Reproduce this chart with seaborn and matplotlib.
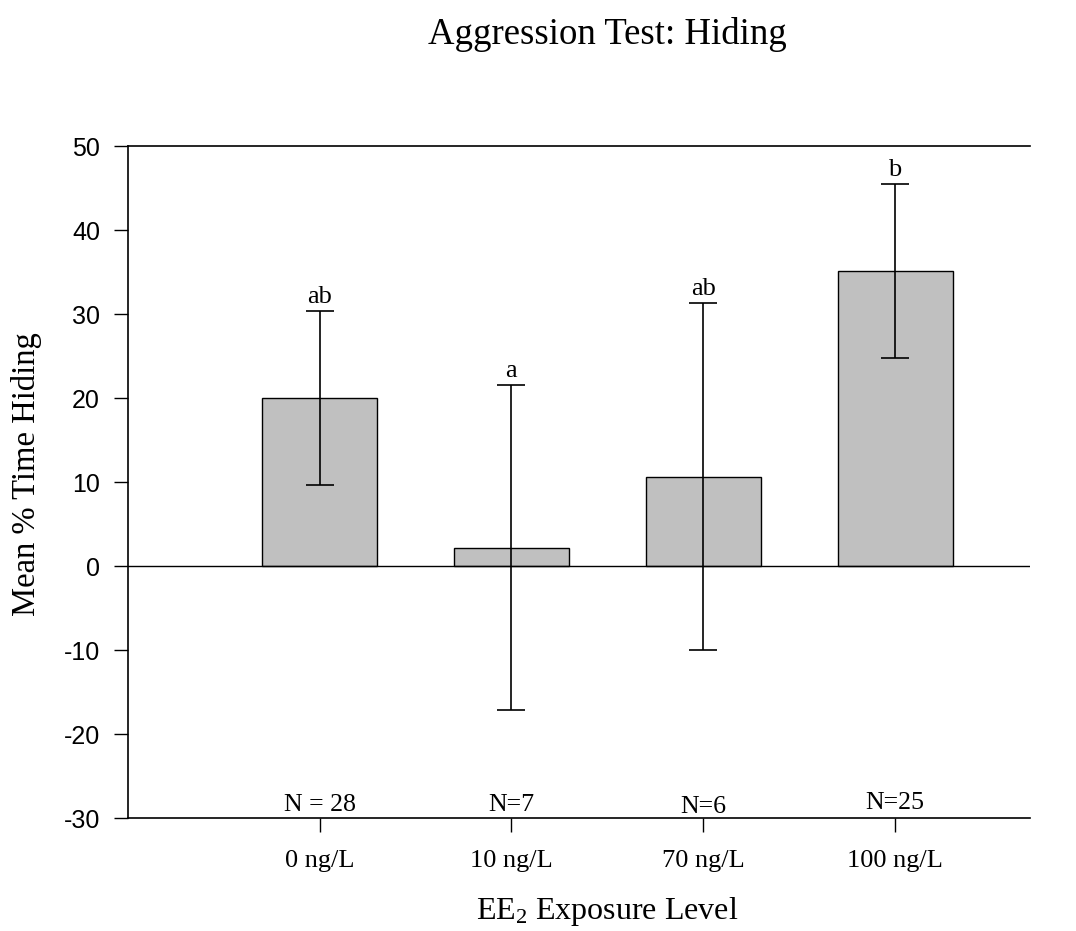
import matplotlib
matplotlib.use("Agg")
import matplotlib.pyplot as plt
import seaborn as sns
import pandas as pd
import numpy as np

categories = ["0 ng/L", "10 ng/L", "70 ng/L", "100 ng/L"]
means = [20.05, 2.2, 10.65, 35.15]
sem = [10.35, 19.4, 20.7, 10.35]
letters = ["ab", "a", "ab", "b"]
n_labels = ["N = 28", "N=7", "N=6", "N=25"]
n_label_y = [-29.15, -29.15, -29.4, -28.87]
yticks = [-30, -20, -10, 0, 10, 20, 30, 40, 50]

sns.set_theme(style="white")
plt.rcParams["font.family"] = ["Liberation Serif", "DejaVu Serif"]
plt.rcParams["mathtext.fontset"] = "custom"
plt.rcParams["mathtext.rm"] = "Liberation Serif"
plt.rcParams["mathtext.it"] = "Liberation Serif:italic"
plt.rcParams["text.color"] = "black"
plt.rcParams["xtick.color"] = "black"
plt.rcParams["ytick.color"] = "black"
plt.rcParams["axes.labelcolor"] = "black"

df = pd.DataFrame({"level": categories, "mean": means})

fig = plt.figure(figsize=(10.76, 9.31), dpi=100)
ax = fig.add_axes([127.7 / 1076, 1 - 818 / 931, (1030 - 127.7) / 1076, (818 - 146) / 931])

sns.barplot(data=df, x="level", y="mean", order=categories, color="#c0c0c0",
            saturation=1, edgecolor="black", linewidth=1.0, width=0.6, ax=ax, errorbar=None)

xpos = np.arange(len(categories))
ax.errorbar(xpos, means, yerr=sem, fmt="none", ecolor="black", elinewidth=1.2,
            capsize=10, capthick=1.2, zorder=5)

for x, m, s, lab in zip(xpos, means, sem, letters):
    ax.text(x, m + s + 0.9, lab, ha="center", va="baseline", fontsize=19,
            family="Liberation Serif", color="black")

for x, yy, lab in zip(xpos, n_label_y, n_labels):
    ax.text(x, yy, lab, ha="center", va="baseline", fontsize=18.6,
            family="Liberation Serif", color="black")

ax.axhline(0, color="black", linewidth=1.0, zorder=1)

ax.set_xlim(-1.0, 3.703)
ax.set_ylim(-30, 50)
ax.set_yticks(yticks)
ax.set_yticklabels([str(t) for t in yticks], family="Liberation Sans", fontsize=18, color="black")
ax.set_xticks(xpos)
ax.set_xticklabels(categories, fontsize=19, family="Liberation Serif", color="black")
ax.set_xlabel("")
ax.set_ylabel("")

for side in ["left", "bottom", "top"]:
    ax.spines[side].set_visible(True)
    ax.spines[side].set_color("black")
    ax.spines[side].set_linewidth(1.2)
ax.spines["right"].set_visible(False)

ax.tick_params(axis="y", direction="out", length=10, width=1, color="black", pad=10, left=True)
ax.tick_params(axis="x", direction="out", length=10, width=1, color="black", pad=13, bottom=True)
ax.grid(False)

fig.text(607 / 1076, 1 - 35 / 931, "Aggression Test: Hiding", ha="center", va="center",
         fontsize=26.5, family="Liberation Serif", color="black")
fig.text(607 / 1076, 1 - 919 / 931, "EE$_2$ Exposure Level", ha="center", va="baseline",
         fontsize=23, family="Liberation Serif", color="black")
fig.text(27 / 1076, 1 - 474 / 931, "Mean % Time Hiding", ha="center", va="center",
         rotation=90, fontsize=23.5, family="Liberation Serif", color="black")

fig.savefig("out.png", dpi=100)
